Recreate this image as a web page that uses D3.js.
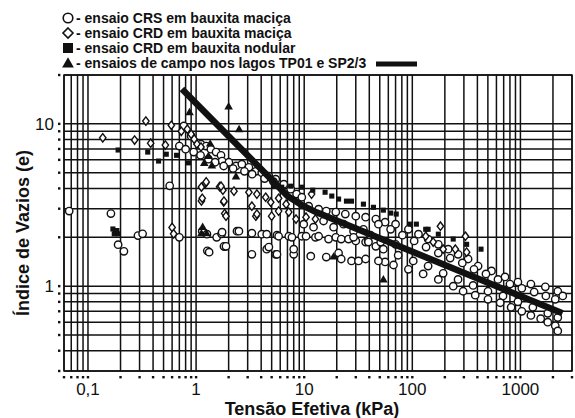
<!DOCTYPE html>
<html>
<head>
<meta charset="utf-8">
<script src="https://cdn.jsdelivr.net/npm/d3@7"></script>
<style>
  body { margin: 0; background: #fff; }
  text { font-family: "Liberation Sans", Arial, sans-serif; fill: #111; }
</style>
</head>
<body>
<div id="chart"></div>
<script>
// canvas size
var width = 575;
var height = 418;

// ensaio CRS em bauxita maciça (open circles) [tensão kPa, e]
var crsPoints = [
  [0.067, 2.9], [0.163, 2.8], [0.19, 1.8], [0.215, 1.64], [0.29, 2.05], [0.32, 2.1],
  [0.7, 2.0], [1.27, 1.65], [1.55, 2.0], [1.72, 2.1], [1.84, 1.75], [0.57, 4.15],
  // band near e = 2
  [1.14, 2.18], [1.26, 2.09], [1.74, 2.15], [2.39, 2.18], [2.49, 2.18], [3.28, 2.12], [4.05, 2.09],
  [4.5, 2.09], [5.6, 2.06], [5.8, 2.03], [7.2, 2.03], [7.7, 2.0], [9.5, 2.03], [10.4, 2.03],
  [12.7, 2.0], [13.6, 2.03], [16.8, 1.95], [19.6, 2.0], [22, 1.95], [25.7, 1.95], [30, 1.9],
  [37, 1.87], [39, 1.9], [46, 1.76], [51, 1.87], [70, 1.81],
  // lower scatter
  [1.32, 1.62], [1.81, 1.76], [1.89, 1.76], [3.28, 1.57], [4.5, 1.69], [4.71, 1.74], [5.45, 1.57],
  [5.6, 1.57], [8.0, 1.57], [8.0, 1.69], [11.5, 1.53], [16, 1.51], [20.8, 1.6], [22, 1.47],
  [27.4, 1.43], [31.8, 1.43], [37, 1.47], [56, 1.41],
  // upper band, left of the break
  [0.77, 9.7], [0.9, 8.4], [1.11, 7.5], [1.24, 7.3], [1.37, 6.98], [1.53, 6.7], [1.7, 6.4],
  [1.74, 5.9], [2.01, 5.8], [2.34, 5.5], [2.65, 5.64], [3.08, 5.4], [3.57, 5.1], [4.05, 5.0],
  [4.71, 4.76], [5.45, 4.56], [6.47, 4.25], [7.5, 3.96], [8.5, 3.69], [9.5, 3.53],
  [0.7, 7.3], [0.8, 6.98], [0.95, 6.7], [1.1, 6.4], [1.3, 6.06], [1.5, 5.8], [1.8, 5.5],
  [2.2, 5.3], [2.8, 5.1], [3.3, 4.9], [4.3, 4.6], [5.2, 4.4],
  // between bands, 10-40 kPa
  [9.9, 2.41], [12.2, 2.31], [15.1, 2.52], [18.7, 2.31], [23.1, 2.41], [28.6, 2.18], [35.3, 2.24], [41, 2.06],
  // upper band, right of the break
  [11, 3.11], [13.6, 2.98], [16, 2.9], [19.6, 2.86], [24, 2.78], [30, 2.7], [37, 2.66], [46, 2.59],
  [56, 2.48], [70, 2.41], [92, 2.24], [114, 2.09], [140, 1.95], [174, 1.81], [215, 1.69], [265, 1.57],
  [328, 1.47], [406, 1.33], [540, 1.24], [720, 1.14], [948, 1.06], [1250, 1.03], [1700, 0.99],
  [2216, 0.93], [2464, 0.87],
  // second row
  [48.6, 2.41], [63, 2.24], [81, 2.06], [104, 1.9], [134, 1.74], [174, 1.6], [224, 1.49], [290, 1.39],
  [372, 1.27], [480, 1.19], [620, 1.1], [800, 1.03], [1030, 0.97], [1340, 0.92], [1720, 0.87], [2100, 0.83],
  // just under the trend line
  [28.6, 2.0], [39.3, 1.87], [54, 1.69], [74, 1.55], [102, 1.43], [140, 1.33], [193, 1.2], [265, 1.1],
  [365, 1.01], [501, 0.93], [690, 0.87], [948, 0.8], [1303, 0.74], [1791, 0.68], [2216, 0.64],
  // lowest band
  [48.6, 1.43], [67, 1.35], [92, 1.27], [126, 1.19], [174, 1.1], [239, 1.0], [295, 0.93], [382, 0.88],
  [501, 0.83], [650, 0.79], [820, 0.74], [1030, 0.7], [1250, 0.66], [1540, 0.63], [1791, 0.6],
  [2100, 0.57], [2216, 0.53]
];

// ensaio CRD em bauxita maciça (open diamonds)
var crdMacicaPoints = [
  [0.137, 8.2], [0.27, 7.95], [0.343, 10.4], [0.38, 7.6], [0.52, 7.4], [0.59, 9.8], [0.73, 9.0],
  [0.83, 9.27], [0.9, 8.64], [0.96, 8.05], [1.02, 7.5], [1.11, 7.2],
  [0.6, 2.3], [0.62, 2.1],
  [1.12, 4.08], [1.22, 4.3], [1.12, 3.35], [1.65, 4.1], [1.77, 3.9], [1.8, 3.3], [1.84, 2.8],
  [1.24, 4.39], [1.7, 4.13], [1.81, 3.34], [2.24, 3.85], [3.08, 3.79], [3.65, 3.69], [4.4, 3.53],
  [4.9, 3.29], [5.8, 3.48], [6.8, 3.2], [1.14, 3.48], [1.89, 2.7], [3.57, 2.7], [5.0, 2.7],
  [3.28, 3.11], [3.65, 2.78], [5.8, 2.9], [7.2, 2.86], [8.4, 2.59], [10.4, 2.66], [12.7, 2.59], [11.7, 3.69],
  [182, 2.34], [133, 2.03], [156, 1.87], [193, 1.69], [250, 1.69], [310, 2.03], [318, 1.62]
];

// ensaio CRD em bauxita nodular (filled squares)
var crdNodularPoints = [
  [0.19, 6.9], [0.357, 6.7], [0.45, 5.9], [0.53, 6.5], [0.66, 6.4], [0.85, 5.75],
  [0.17, 2.25], [0.18, 2.15], [0.185, 2.2], [0.19, 2.1], [0.175, 2.1],
  [5.23, 4.13], [6.2, 4.07], [7.5, 4.13], [9.5, 4.07], [12, 3.9], [15.6, 3.79], [18, 3.59],
  [20.8, 3.44], [24.6, 3.34], [27.4, 3.34], [35.3, 3.2], [43.7, 3.06], [54, 2.94], [63, 2.82],
  [71, 2.78], [96, 2.41], [109, 2.41], [133, 2.24], [140, 2.24], [174, 2.09], [239, 1.95],
  [318, 1.81], [432, 1.69]
];

// ensaios de campo nos lagos TP01 e SP2/3 (filled triangles)
var campoPoints = [
  [0.87, 11.7], [2.0, 12.7], [2.5, 9.2], [1.35, 7.5], [1.3, 6.3], [1.19, 5.7], [1.4, 5.5],
  [2.34, 4.7], [1.15, 2.3], [1.12, 2.1], [1.25, 2.1], [18.7, 1.51], [54, 1.09]
];

// thick trend line
var trendLine = [[0.74, 16.4], [7, 3.6], [9.5, 3.15], [13, 2.85], [2450, 0.68]];

// tick labels
var xTickValues = [0.1, 1, 10, 100, 1000];
var xTickLabels = ["0,1", "1", "10", "100", "1000"];
var yTickValues = [1, 10];
var yTickLabels = ["1", "10"];

var legendLabels = [
  "- ensaio CRS em bauxita maciça",
  "- ensaio CRD em bauxita maciça",
  "- ensaio CRD em bauxita nodular",
  "- ensaios de campo nos lagos TP01 e SP2/3"
];

var svg = d3.select("#chart")
  .append("svg")
    .attr("width", width)
    .attr("height", height);

var x = d3.scaleLog().domain([0.06, 3000]).range([64, 572]);
var y = d3.scaleLog().domain([0.3, 20]).range([371, 75]);

var ink = "#111";

// grid lines on every minor tick
svg.append("g")
  .selectAll("line")
  .data(x.ticks())
  .enter().append("line")
    .attr("x1", d => x(d)).attr("x2", d => x(d))
    .attr("y1", y(20)).attr("y2", y(0.3))
    .attr("stroke", ink)
    .attr("stroke-width", 1.5);

svg.append("g")
  .selectAll("line")
  .data(y.ticks())
  .enter().append("line")
    .attr("x1", x(0.06)).attr("x2", x(3000))
    .attr("y1", d => y(d)).attr("y2", d => y(d))
    .attr("stroke", ink)
    .attr("stroke-width", 1.5);

// frame
svg.append("rect")
  .attr("x", x(0.06)).attr("y", y(20))
  .attr("width", x(3000) - x(0.06))
  .attr("height", y(0.3) - y(20))
  .attr("fill", "none")
  .attr("stroke", ink)
  .attr("stroke-width", 1.5);

// little tick dots outside the frame
svg.append("g")
  .selectAll("rect")
  .data(x.ticks())
  .enter().append("rect")
    .attr("x", d => x(d) - 1.2)
    .attr("y", y(0.3) + 5)
    .attr("width", 2.4).attr("height", 2.4)
    .attr("fill", ink);

svg.append("g")
  .selectAll("rect")
  .data(y.ticks())
  .enter().append("rect")
    .attr("x", x(0.06) - 6)
    .attr("y", d => y(d) - 1.2)
    .attr("width", 2.4).attr("height", 2.4)
    .attr("fill", ink);

// tick labels
svg.append("g")
  .selectAll("text")
  .data(xTickValues)
  .enter().append("text")
    .attr("x", d => x(d))
    .attr("y", 395)
    .attr("text-anchor", "middle")
    .style("font-size", "17px")
    .text((d, i) => xTickLabels[i]);

svg.append("g")
  .selectAll("text")
  .data(yTickValues)
  .enter().append("text")
    .attr("x", 54)
    .attr("y", d => y(d) + 6)
    .attr("text-anchor", "end")
    .style("font-size", "17px")
    .text((d, i) => yTickLabels[i]);

// axis titles
svg.append("text")
  .attr("x", 312)
  .attr("y", 415)
  .attr("text-anchor", "middle")
  .style("font-size", "18px")
  .style("font-weight", "bold")
  .text("Tensão Efetiva (kPa)");

svg.append("text")
  .attr("transform", "translate(29,233) rotate(-90)")
  .attr("text-anchor", "middle")
  .style("font-size", "18px")
  .style("font-weight", "bold")
  .text("Índice de Vazios (e)");

// trend line
var line = d3.line()
  .x(d => x(d[0]))
  .y(d => y(d[1]));

// markers
var diamondPath = "M0,-4.2L3.2,0L0,4.2L-3.2,0Z";
var square = d3.symbol().type(d3.symbolSquare).size(26);
var triangle = d3.symbol().type(d3.symbolTriangle).size(32);

svg.append("g")
  .selectAll("circle")
  .data(crsPoints)
  .enter().append("circle")
    .attr("cx", d => x(d[0]))
    .attr("cy", d => y(d[1]))
    .attr("r", 3.7)
    .attr("fill", "#fff")
    .attr("stroke", ink)
    .attr("stroke-width", 1.4);

svg.append("g")
  .selectAll("path")
  .data(crdMacicaPoints)
  .enter().append("path")
    .attr("d", diamondPath)
    .attr("transform", d => "translate(" + x(d[0]) + "," + y(d[1]) + ")")
    .attr("fill", "#fff")
    .attr("stroke", ink)
    .attr("stroke-width", 1.4);

svg.append("g")
  .selectAll("path")
  .data(crdNodularPoints)
  .enter().append("path")
    .attr("d", square)
    .attr("transform", d => "translate(" + x(d[0]) + "," + y(d[1]) + ")")
    .attr("fill", ink);

svg.append("g")
  .selectAll("path")
  .data(campoPoints)
  .enter().append("path")
    .attr("d", triangle)
    .attr("transform", d => "translate(" + x(d[0]) + "," + y(d[1]) + ")")
    .attr("fill", ink);

svg.append("path")
  .datum(trendLine)
  .attr("d", line)
  .attr("fill", "none")
  .attr("stroke", ink)
  .attr("stroke-width", 6.5);

// legend
var legend = svg.append("g");
var rowY = [18, 33, 48, 63];

legend.append("circle")
  .attr("cx", 68).attr("cy", rowY[0]).attr("r", 4.8)
  .attr("fill", "#fff").attr("stroke", ink).attr("stroke-width", 1.6);
legend.append("path")
  .attr("d", "M0,-5L5,0L0,5L-5,0Z")
  .attr("transform", "translate(68," + rowY[1] + ")")
  .attr("fill", "#fff").attr("stroke", ink).attr("stroke-width", 1.6);
legend.append("rect")
  .attr("x", 63).attr("y", rowY[2] - 5).attr("width", 10).attr("height", 10)
  .attr("fill", ink);
legend.append("path")
  .attr("d", d3.symbol().type(d3.symbolTriangle).size(60))
  .attr("transform", "translate(68," + (rowY[3] + 1) + ")")
  .attr("fill", ink);

legend.selectAll("text")
  .data(legendLabels)
  .enter().append("text")
    .attr("x", 76)
    .attr("y", (d, i) => rowY[i] + 5)
    .style("font-size", "14px")
    .style("font-weight", "bold")
    .text(d => d);

legend.append("line")
  .attr("x1", 376).attr("x2", 417)
  .attr("y1", 64).attr("y2", 64)
  .attr("stroke", ink)
  .attr("stroke-width", 5);
</script>
</body>
</html>
